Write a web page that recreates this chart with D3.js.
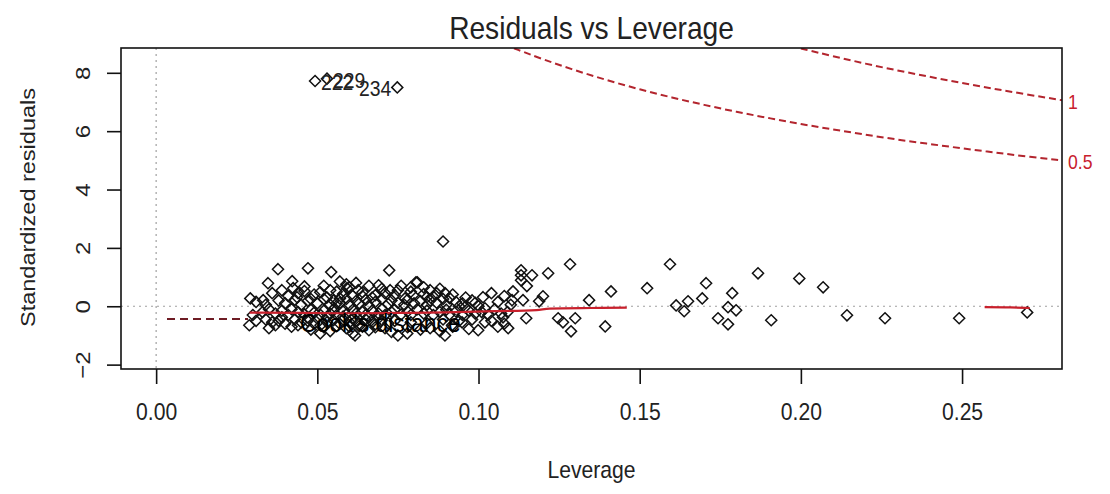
<!DOCTYPE html>
<html lang="en">
<head>
<meta charset="utf-8">
<title>Residuals vs Leverage</title>
<script src="https://d3js.org/d3.v7.min.js"></script>
<style>
body { margin: 0; background: #fff; }
text { font-family: "Liberation Sans", Arial, sans-serif; fill: #222; }
</style>
</head>
<body>
<script>
// values: [leverage, standardized residual]
var points = [
  [0.0493, 7.72], [0.0530, 7.80], [0.0748, 7.50], [0.0890, 2.22],
  [0.0378, 1.27], [0.0471, 1.30], [0.0543, 1.17], [0.0347, 0.79], [0.0422, 0.86],
  [0.0292, 0.27], [0.0289, -0.65], [0.0390, 0.55], [0.0425, 0.62], [0.0509, 0.48],
  [0.0437, 0.31], [0.0332, 0.21], [0.0592, 0.62], [0.0570, 0.27], [0.0610, -0.93], [0.0509, -0.93],
  [0.0723, 1.23], [0.0806, 0.82], [0.0726, 0.55], [0.0627, 0.55], [0.0680, 0.38], [0.0772, 0.27],
  [0.0797, 0.38], [0.0840, 0.31], [0.0896, 0.45], [0.0870, 0.45], [0.1014, 0.31], [0.0958, -0.03],
  [0.0999, -0.82], [0.0896, -1.0], [0.0750, -1.0], [0.0779, -0.93], [0.0918, -0.65], [0.0949, -0.55],
  [0.0617, -1.0], [0.1020, -0.07],
  [0.1132, 1.23], [0.1132, 1.06], [0.1132, 0.89], [0.1166, 1.06], [0.1216, 1.13], [0.1284, 1.44],
  [0.1150, 0.69], [0.1107, 0.51], [0.1138, 0.21], [0.1104, 0.21], [0.1200, 0.34], [0.1188, 0.17],
  [0.1343, 0.21], [0.1411, 0.51], [0.1523, 0.62], [0.1594, 1.44], [0.1706, 0.79], [0.1694, 0.27],
  [0.1650, 0.17], [0.1613, 0.03], [0.1638, -0.17], [0.1787, 0.45], [0.1774, -0.03], [0.1799, -0.14],
  [0.1867, 1.13], [0.1743, -0.41], [0.1774, -0.62], [0.1908, -0.48],
  [0.1076, -0.38], [0.1092, -0.75], [0.1148, -0.41], [0.1247, -0.41], [0.1262, -0.55], [0.1300, -0.41],
  [0.1287, -0.86], [0.1393, -0.69],
  [0.1995, 0.95], [0.2069, 0.65], [0.2143, -0.31], [0.2261, -0.41], [0.2491, -0.41], [0.2702, -0.21],
  // dense band
  [0.036, 0.45], [0.041, 0.35], [0.046, 0.52], [0.049, 0.40], [0.053, 0.30], [0.056, 0.50], [0.058, 0.42],
  [0.061, 0.35], [0.064, 0.48], [0.067, 0.30], [0.071, 0.45], [0.074, 0.38], [0.079, 0.50], [0.083, 0.42],
  [0.086, 0.33], [0.092, 0.40], [0.096, 0.30], [0.104, 0.45], [0.108, 0.35],
  [0.057, 0.85], [0.059, 0.75], [0.062, 0.80], [0.066, 0.70], [0.069, 0.72], [0.076, 0.70], [0.081, 0.82],
  [0.088, 0.60], [0.052, 0.70], [0.046, 0.68],
  [0.031, 0.15], [0.034, 0.05], [0.038, 0.20], [0.040, 0.10], [0.043, 0.22], [0.045, 0.05], [0.047, 0.18],
  [0.050, 0.10], [0.052, 0.25], [0.054, 0.05], [0.055, 0.20], [0.057, 0.12], [0.059, 0.25], [0.060, 0.05],
  [0.062, 0.18], [0.063, 0.10], [0.065, 0.22], [0.066, 0.02], [0.068, 0.15], [0.070, 0.25], [0.072, 0.08],
  [0.073, 0.20], [0.075, 0.12], [0.077, 0.05], [0.078, 0.22], [0.080, 0.10], [0.082, 0.18], [0.084, 0.05],
  [0.085, 0.20], [0.087, 0.12], [0.089, 0.25], [0.090, 0.05], [0.093, 0.15], [0.095, 0.10], [0.098, 0.20],
  [0.100, 0.00], [0.106, 0.15], [0.110, 0.05],
  [0.030, -0.30], [0.033, -0.20], [0.035, -0.10], [0.037, -0.25], [0.039, -0.15], [0.041, -0.30], [0.042, -0.10],
  [0.044, -0.20], [0.046, -0.28], [0.048, -0.12], [0.049, -0.22], [0.051, -0.30], [0.052, -0.15], [0.054, -0.25],
  [0.055, -0.10], [0.056, -0.30], [0.058, -0.18], [0.059, -0.28], [0.061, -0.12], [0.062, -0.25], [0.064, -0.20],
  [0.065, -0.30], [0.067, -0.15], [0.069, -0.25], [0.070, -0.10], [0.071, -0.30], [0.073, -0.20], [0.074, -0.12],
  [0.076, -0.28], [0.078, -0.18], [0.079, -0.30], [0.081, -0.10], [0.083, -0.25], [0.084, -0.15], [0.086, -0.30],
  [0.088, -0.20], [0.090, -0.12], [0.091, -0.28], [0.093, -0.18], [0.095, -0.30], [0.097, -0.15], [0.099, -0.25],
  [0.101, -0.20], [0.103, -0.30], [0.105, -0.10], [0.107, -0.25], [0.109, -0.20],
  [0.031, -0.50], [0.034, -0.45], [0.036, -0.55], [0.038, -0.50], [0.040, -0.60], [0.043, -0.45], [0.045, -0.55],
  [0.047, -0.50], [0.049, -0.60], [0.050, -0.42], [0.053, -0.55], [0.055, -0.48], [0.057, -0.60], [0.058, -0.45],
  [0.060, -0.55], [0.062, -0.50], [0.063, -0.60], [0.065, -0.45], [0.067, -0.55], [0.068, -0.62], [0.070, -0.48],
  [0.072, -0.58], [0.074, -0.50], [0.079, -0.55], [0.084, -0.58], [0.089, -0.45], [0.094, -0.50],
  [0.098, -0.45], [0.102, -0.55], [0.104, -0.50], [0.108, -0.60],
  [0.035, -0.75], [0.042, -0.70], [0.048, -0.80], [0.052, -0.72], [0.054, -0.85], [0.059, -0.75], [0.064, -0.70],
  [0.066, -0.82], [0.071, -0.75], [0.073, -0.88], [0.078, -0.72], [0.082, -0.80], [0.085, -0.75], [0.088, -0.85],
  [0.092, -0.70], [0.097, -0.78], [0.106, -0.70],
  [0.047, -0.38], [0.051, -0.65], [0.053, -0.38], [0.056, -0.68], [0.058, -0.35], [0.060, -0.70], [0.061, -0.40],
  [0.063, -0.68], [0.066, -0.38], [0.068, -0.72], [0.069, -0.40], [0.044, -0.65], [0.039, -0.38], [0.037, -0.65],
  [0.056, 0.10], [0.064, 0.35], [0.070, 0.60], [0.075, 0.55], [0.079, 0.65], [0.060, 0.65], [0.054, 0.55],
  [0.048, 0.25], [0.044, 0.45], [0.083, 0.65], [0.085, 0.55], [0.091, 0.28], [0.094, 0.00], [0.099, 0.12]
];

// labelled observations (index into points, id text)
var labelIndex = [0, 1, 2];
var labelText = ["222", "229", "234"];

// red smoother, visible pieces
var smoothA = [[0.029, -0.22], [0.045, -0.23], [0.06, -0.24], [0.075, -0.23], [0.09, -0.21],
  [0.105, -0.17], [0.118, -0.13], [0.122, -0.08], [0.135, -0.06], [0.146, -0.05]];
var smoothB = [[0.257, -0.03], [0.265, -0.04], [0.271, -0.06]];

// Cook's distance contours
var cookLevels = ["0.5", "1"];
var cookHalf = [[0.111, 8.84], [0.12, 8.46], [0.13, 8.08], [0.14, 7.74], [0.15, 7.43], [0.16, 7.15],
  [0.17, 6.90], [0.18, 6.66], [0.19, 6.45], [0.20, 6.24], [0.21, 6.06], [0.22, 5.88], [0.23, 5.71],
  [0.24, 5.56], [0.25, 5.41], [0.26, 5.27], [0.27, 5.13], [0.281, 5.0]];
var cookOne = [[0.2, 8.83], [0.21, 8.57], [0.22, 8.31], [0.23, 8.08], [0.24, 7.86], [0.25, 7.65],
  [0.26, 7.45], [0.27, 7.26], [0.281, 7.06]];

var xTicks = [0, 0.05, 0.10, 0.15, 0.20, 0.25];
var yTicks = [-2, 0, 2, 4, 6, 8];

var W = 1110, H = 494;
var pL = 121, pR = 1062, pT = 48, pB = 369;
var squeeze = 0.88;
var red = "#c8202c";

var x = d3.scaleLinear().domain([-0.0109, 0.281]).range([pL, pR]);
var y = d3.scaleLinear().domain([-2.15, 8.85]).range([pB, pT]);

var svg = d3.select("body").append("svg")
  .attr("width", W).attr("height", H)
  .style("background", "#fff");

function label(px, py, s, size, anchor, rot, color) {
  return svg.append("text")
    .attr("transform", "translate(" + px + "," + py + ") scale(" + squeeze + ",1)" + (rot ? " rotate(-90)" : ""))
    .attr("text-anchor", anchor || "middle")
    .attr("dominant-baseline", "central")
    .style("font-size", size + "px")
    .style("fill", color || "#222")
    .text(s);
}

svg.append("defs").append("clipPath").attr("id", "clip")
  .append("rect").attr("x", pL).attr("y", pT)
  .attr("width", pR - pL).attr("height", pB - pT);

var plot = svg.append("g").attr("clip-path", "url(#clip)");

// reference lines
plot.append("line")
  .attr("x1", x(0)).attr("x2", x(0)).attr("y1", pT).attr("y2", pB)
  .attr("stroke", "#a0a0a0").attr("stroke-width", 1.2).attr("stroke-dasharray", "2,4");
plot.append("line")
  .attr("x1", pL).attr("x2", pR).attr("y1", y(0)).attr("y2", y(0))
  .attr("stroke", "#a0a0a0").attr("stroke-width", 1.2).attr("stroke-dasharray", "2,4");

var line = d3.line().x(function(d) { return x(d[0]); }).y(function(d) { return y(d[1]); });

// points
plot.selectAll(".pt")
  .data(points)
  .enter().append("path")
  .attr("class", "pt")
  .attr("transform", function(d) { return "translate(" + x(d[0]) + "," + y(d[1]) + ")"; })
  .attr("d", d3.symbol().type(d3.symbolDiamond2).size(78))
  .attr("fill", "none")
  .attr("stroke", "#111")
  .attr("stroke-width", 1.5);

[smoothA, smoothB].forEach(function(s) {
  plot.append("path").datum(s)
    .attr("d", line.curve(d3.curveMonotoneX))
    .attr("fill", "none").attr("stroke", red).attr("stroke-width", 2.2);
});

[cookHalf, cookOne].forEach(function(c) {
  plot.append("path").datum(c)
    .attr("d", line.curve(d3.curveBasis))
    .attr("fill", "none").attr("stroke", "#b3252e").attr("stroke-width", 2)
    .attr("stroke-dasharray", "7,4");
});

// contour labels in the right margin
[cookHalf, cookOne].forEach(function(c, i) {
  var last = c[c.length - 1];
  label(pR + 6, y(last[1]) + 2, cookLevels[i], 20, "start", false, red);
});

// point ids
labelIndex.forEach(function(idx, i) {
  var d = points[idx];
  var toLeft = i === 2;
  label(x(d[0]) + (toLeft ? -6 : 6), y(d[1]) + 1, labelText[i], 22, toLeft ? "end" : "start");
});

// frame
svg.append("rect")
  .attr("x", pL).attr("y", pT).attr("width", pR - pL).attr("height", pB - pT)
  .attr("fill", "none").attr("stroke", "#111").attr("stroke-width", 1.6);

// x axis
var xAxis = svg.append("g").attr("transform", "translate(0," + pB + ")")
  .call(d3.axisBottom(x).tickValues(xTicks).tickSize(15).tickFormat(d3.format(".2f")));
xAxis.select(".domain").remove();
xAxis.selectAll("line").attr("stroke", "#111").attr("stroke-width", 1.6);
xAxis.selectAll("text")
  .attr("y", 43).attr("dy", null)
  .attr("dominant-baseline", "central")
  .attr("transform", "scale(" + squeeze + ",1)")
  .style("font-size", "24px").style("fill", "#222")
  .style("font-family", "'Liberation Sans', Arial, sans-serif");

// y axis
var yAxis = svg.append("g").attr("transform", "translate(" + pL + ",0)")
  .call(d3.axisLeft(y).tickValues(yTicks).tickSize(14).tickFormat(d3.format("d")));
yAxis.select(".domain").remove();
yAxis.selectAll("line").attr("stroke", "#111").attr("stroke-width", 1.6);
yAxis.selectAll("text")
  .attr("x", null).attr("dy", null)
  .attr("text-anchor", "middle")
  .attr("dominant-baseline", "central")
  .attr("transform", "translate(-38,0) scale(" + squeeze + ",1) rotate(-90)")
  .style("font-size", "24px").style("fill", "#222")
  .style("font-family", "'Liberation Sans', Arial, sans-serif");

// legend (bottom left)
svg.append("line")
  .attr("x1", 167).attr("x2", 248).attr("y1", 319).attr("y2", 319)
  .attr("stroke", "#6e1c24").attr("stroke-width", 1.8).attr("stroke-dasharray", "8,5");
label(300, 323, "Cook's distance", 26, "start", false, "#000");

// titles
label((pL + pR) / 2, 28, "Residuals vs Leverage", 32);
label((pL + pR) / 2, 470, "Leverage", 24);
label(28, (pT + pB) / 2 - 1, "Standardized residuals", 23.5, "middle", true);
</script>
</body>
</html>
